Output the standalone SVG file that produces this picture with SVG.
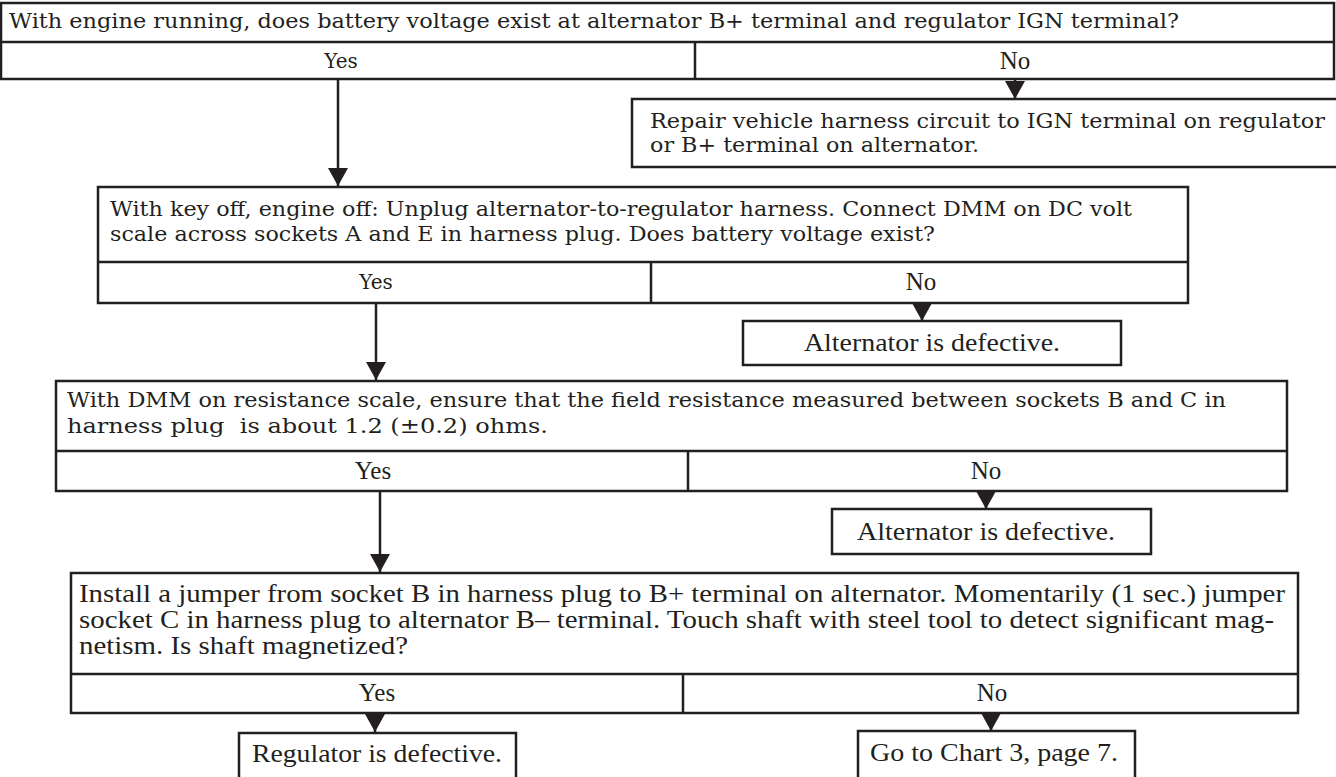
<svg xmlns="http://www.w3.org/2000/svg" width="1336" height="777" viewBox="0 0 1336 777">
<style>
.box{fill:#fff;stroke:#231f20;stroke-width:2.5}
.ln{stroke:#231f20;stroke-width:2.5;fill:none}
.t{font-family:"DejaVu Serif","Liberation Serif",serif;font-size:20px;fill:#231f20}
.c{font-family:"Liberation Serif",serif;font-size:25px;fill:#231f20}
.m{text-anchor:middle}
</style>
<defs>
<marker id="ah" viewBox="0 0 18 20" refX="18" refY="10" markerWidth="18" markerHeight="20" markerUnits="userSpaceOnUse" orient="auto">
<path d="M0,0 L18,10 L0,20 z" fill="#231f20"/>
</marker>
</defs>
<rect width="1336" height="777" fill="#fff"/>

<g id="q1">
<rect class="box" x="1" y="3" width="1333" height="76"/>
<line class="ln" x1="1" y1="42" x2="1334" y2="42"/>
<line class="ln" x1="695" y1="42" x2="695" y2="79"/>
<text class="t" x="9" y="28" textLength="1170" lengthAdjust="spacingAndGlyphs">With engine running, does battery voltage exist at alternator B+ terminal and regulator IGN terminal?</text>
<text class="t m" x="341" y="68">Yes</text>
<text class="c m" x="1015" y="69">No</text>
</g>

<g id="r1">
<rect class="box" x="632" y="99" width="730" height="68"/>
<text class="t" x="650" y="128" textLength="675" lengthAdjust="spacingAndGlyphs">Repair vehicle harness circuit to IGN terminal on regulator</text>
<text class="t" x="650" y="152" textLength="329" lengthAdjust="spacingAndGlyphs">or B+ terminal on alternator.</text>
</g>

<g id="q2">
<rect class="box" x="98" y="187" width="1090" height="116"/>
<line class="ln" x1="98" y1="262" x2="1188" y2="262"/>
<line class="ln" x1="651" y1="262" x2="651" y2="303"/>
<text class="t" x="110" y="216" textLength="1022" lengthAdjust="spacingAndGlyphs">With key off, engine off: Unplug alternator-to-regulator harness. Connect DMM on DC volt</text>
<text class="t" x="110" y="241" textLength="825" lengthAdjust="spacingAndGlyphs">scale across sockets A and E in harness plug. Does battery voltage exist?</text>
<text class="t m" x="376" y="289">Yes</text>
<text class="c m" x="921" y="290">No</text>
</g>

<g id="a1">
<rect class="box" x="743" y="321" width="378" height="44"/>
<text class="c m" x="932" y="351" textLength="256" lengthAdjust="spacingAndGlyphs">Alternator is defective.</text>
</g>

<g id="q3">
<rect class="box" x="56" y="381" width="1231" height="110"/>
<line class="ln" x1="56" y1="451" x2="1287" y2="451"/>
<line class="ln" x1="688" y1="451" x2="688" y2="491"/>
<text class="t" x="67" y="407" textLength="1159" lengthAdjust="spacingAndGlyphs">With DMM on resistance scale, ensure that the field resistance measured between sockets B and C in</text>
<text class="t" x="67" y="433" textLength="481" lengthAdjust="spacingAndGlyphs" xml:space="preserve">harness plug  is about 1.2 (±0.2) ohms.</text>
<text class="c m" x="373" y="479">Yes</text>
<text class="c m" x="986" y="479">No</text>
</g>

<g id="a2">
<rect class="box" x="832" y="509" width="319" height="45"/>
<text class="c m" x="986" y="540" textLength="258" lengthAdjust="spacingAndGlyphs">Alternator is defective.</text>
</g>

<g id="q4">
<rect class="box" x="71" y="573" width="1227" height="140"/>
<line class="ln" x1="71" y1="674" x2="1298" y2="674"/>
<line class="ln" x1="683" y1="674" x2="683" y2="713"/>
<text class="c" x="79" y="602" textLength="1206" lengthAdjust="spacingAndGlyphs">Install a jumper from socket B in harness plug to B+ terminal on alternator. Momentarily (1 sec.) jumper</text>
<text class="c" x="79" y="628" textLength="1195" lengthAdjust="spacingAndGlyphs">socket C in harness plug to alternator B– terminal. Touch shaft with steel tool to detect significant mag-</text>
<text class="c" x="79" y="654" textLength="329" lengthAdjust="spacingAndGlyphs">netism. Is shaft magnetized?</text>
<text class="c m" x="377" y="701">Yes</text>
<text class="c m" x="992" y="701">No</text>
</g>

<g id="reg">
<rect class="box" x="239" y="733" width="277" height="50"/>
<text class="c m" x="377" y="762" textLength="250" lengthAdjust="spacingAndGlyphs">Regulator is defective.</text>
</g>

<g id="goto">
<rect class="box" x="858" y="731" width="277" height="52"/>
<text class="c m" x="994" y="761" textLength="248" lengthAdjust="spacingAndGlyphs">Go to Chart 3, page 7.</text>
</g>

<g id="connectors">
<line class="ln" x1="338" y1="79" x2="338" y2="186" marker-end="url(#ah)"/>
<line class="ln" x1="1015" y1="80" x2="1015" y2="99" marker-end="url(#ah)"/>
<line class="ln" x1="376" y1="303" x2="376" y2="380" marker-end="url(#ah)"/>
<line class="ln" x1="922" y1="303" x2="922" y2="321" marker-end="url(#ah)"/>
<line class="ln" x1="380" y1="491" x2="380" y2="572" marker-end="url(#ah)"/>
<line class="ln" x1="986" y1="492" x2="986" y2="509" marker-end="url(#ah)"/>
<line class="ln" x1="375" y1="714" x2="375" y2="732" marker-end="url(#ah)"/>
<line class="ln" x1="991" y1="714" x2="991" y2="731" marker-end="url(#ah)"/>
</g>
</svg>
